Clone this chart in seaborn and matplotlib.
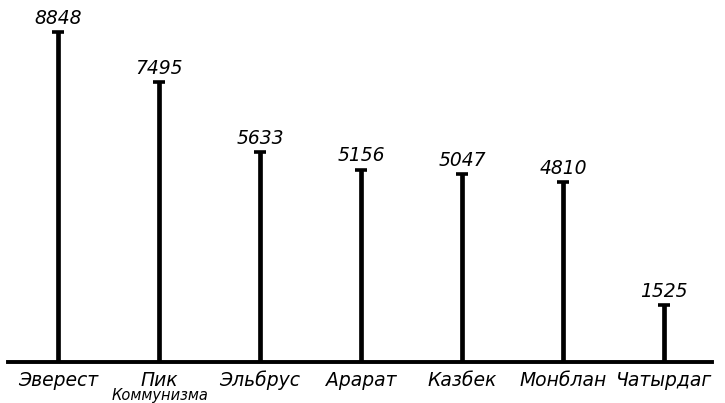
import matplotlib
matplotlib.use("Agg")
import matplotlib.pyplot as plt
import seaborn as sns

peaks = ["Эверест", "Пик", "Эльбрус", "Арарат", "Казбек", "Монблан", "Чатырдаг"]
heights = [8848, 7495, 5633, 5156, 5047, 4810, 1525]
value_labels = ["8848", "7495", "5633", "5156", "5047", "4810", "1525"]

sns.set_style("white")
plt.rcParams["font.family"] = ["DejaVu Sans"]
plt.rcParams["text.color"] = "black"

fig = plt.figure(figsize=(7.25, 4.03), dpi=100)
ax = fig.add_axes([8 / 725, 1 - 362 / 403, 704 / 725, 362 / 403])

sns.barplot(x=peaks, y=heights, color="black", width=0.045, saturation=1,
            edgecolor="black", linewidth=0.5, ax=ax)

# caps on top of the stems
for i, h in enumerate(heights):
    ax.hlines(h, i - 0.06, i + 0.06, color="black", lw=2.6)
    ax.text(i, h + 110, value_labels[i], ha="center", va="bottom",
            fontsize=13.5, style="italic", color="black")

# peak names below the baseline
for i, name in enumerate(peaks):
    ax.text(i, -230, name, ha="center", va="top", fontsize=13.5,
            style="italic", color="black")
ax.text(1.01, -700, "Коммунизма", ha="center", va="top", fontsize=10.5,
        style="italic", color="black")

ax.set_xlim(-0.495, 6.475)
ax.set_ylim(0, 9700)
ax.set_xticks([])
ax.set_yticks([])
ax.set_xlabel("")
ax.set_ylabel("")
for s in ["top", "left", "right"]:
    ax.spines[s].set_visible(False)
ax.spines["bottom"].set_linewidth(2.8)
ax.spines["bottom"].set_color("black")

fig.savefig("out.png", dpi=100)
